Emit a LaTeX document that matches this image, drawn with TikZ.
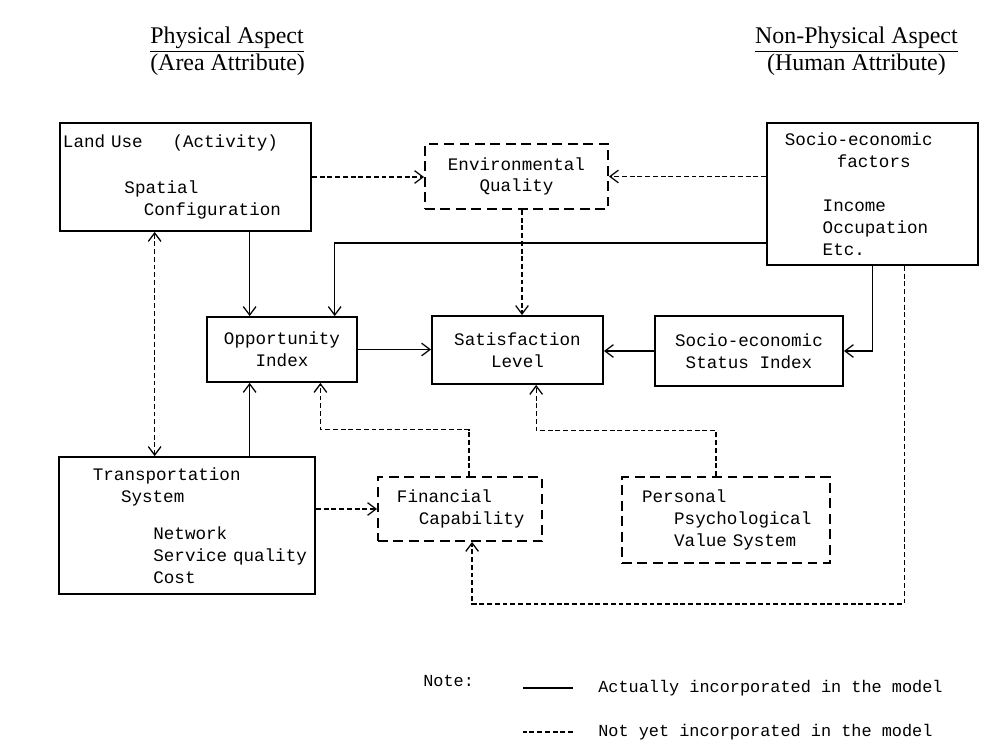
\documentclass[tikz,border=0pt]{standalone}
\usepackage{fontspec}
\setmainfont{Liberation Mono}
\newfontfamily\headfont{Liberation Serif}
\usetikzlibrary{arrows.meta, calc}
\newcommand{\ind}[1]{\hspace*{#1em}}

\begin{document}
\begin{tikzpicture}[
    x=0.025cm, y=-0.025cm,
    >={Straight Barb[length=6pt, width=9pt]},
    every node/.style={font=\fontsize{12.5}{15.5}\selectfont},
    box/.style={draw, line width=1.3pt, align=left, inner xsep=0.075cm, inner ysep=0pt},
    cbox/.style={draw, line width=1.3pt, align=center, inner sep=0pt},
    dbox/.style={dash pattern=on 7pt off 4pt},
    flow/.style={draw, line width=0.9pt, ->},
    dep/.style={flow, dash pattern=on 3.5pt off 2pt},
    head/.style={font=\headfont\fontsize{17}{19}\selectfont, inner sep=0pt},
    key/.style={anchor=west, inner sep=0pt, font=\fontsize{12}{14}\selectfont},
]
\useasboundingbox (0,0) rectangle (982,743);

% headings
\node[head, anchor=north west, align=left] (phys) at (150,27) {\underline{Physical Aspect}\\(Area Attribute)};
\node[head, anchor=north east, align=center] (nonphys) at (958,27) {\underline{Non-Physical Aspect}\\(Human Attribute)};

% boxes
\node[box, text width=6.125cm, minimum height=2.7cm] (landuse) at (185.5,177)
    {Land~Use\hspace{1.7em}(Activity)\\[17pt]\ind{3.5}Spatial\\\ind{4.6}Configuration};
\node[cbox, dbox, minimum width=4.575cm, minimum height=1.625cm] (envq) at (516.5,176.5)
    {Environmental\\Quality};
\node[box, text width=5.125cm, minimum height=3.55cm] (socio) at (872.5,194)
    {\ind{0.85}Socio-economic\\\ind{3.8}factors\\[16pt]\ind{3}Income\\\ind{3}Occupation\\\ind{3}Etc.};
\node[cbox, minimum width=3.75cm, minimum height=1.625cm] (opport) at (282,349.5)
    {Opportunity\\Index};
\node[cbox, minimum width=4.275cm, minimum height=1.7cm] (satisf) at (517.5,350)
    {Satisfaction\\Level};
\node[cbox, minimum width=4.7cm, minimum height=1.75cm] (status) at (749,351)
    {Socio-economic\\Status~Index};
\node[box, text width=6.25cm, minimum height=3.425cm] (transp) at (187,525.5)
    {\ind{1.76}Transportation\\\ind{3.36}System\\[11pt]\ind{5.2}Network\\\ind{5.2}Service~quality\\\ind{5.2}Cost};
\node[box, dbox, text width=3.95cm, minimum height=1.6cm] (financ) at (460,509)
    {\ind{0.91}Financial\\\ind{2.16}Capability};
\node[box, dbox, text width=5.05cm, minimum height=2.15cm] (personal) at (726,520)
    {\ind{0.97}Personal\\\ind{2.8}Psychological\\\ind{2.8}Value~System};

% connector ends
\coordinate (oppN1) at ($(opport.north west)!.287!(opport.north east)$);
\coordinate (oppN2) at ($(opport.north west)!.847!(opport.north east)$);
\coordinate (oppS1) at ($(opport.south west)!.287!(opport.south east)$);
\coordinate (oppS2) at ($(opport.south west)!.753!(opport.south east)$);
\coordinate (satN) at ($(satisf.north west)!.526!(satisf.north east)$);
\coordinate (satS) at ($(satisf.south west)!.608!(satisf.south east)$);
\coordinate (luS) at ($(landuse.south west)!.378!(landuse.south east)$);
\coordinate (socW) at ($(socio.north west)!.84!(socio.south west)$);
\coordinate (socS) at ($(socio.south west)!.649!(socio.south east)$);
\coordinate (finN) at ($(financ.north west)!.555!(financ.north east)$);
\coordinate (finS) at ($(financ.south west)!.573!(financ.south east)$);
\coordinate (perN) at ($(personal.north west)!.452!(personal.north east)$);
\coordinate (finM) at ($(oppS2)!.5!(finN)$);
\coordinate (perM) at ($(satS)!.5!(perN)$);
\coordinate (loop) at ([yshift=-1cm]personal.south);

% actually incorporated
\draw[flow] (oppN1 |- landuse.south) -- (oppN1);
\draw[flow] (socW) -| (oppN2);
\draw[flow] (oppS1 |- transp.north) -- (oppS1);
\draw[flow] (opport.east) -- (opport.east -| satisf.west);
\draw[flow] (status.west) -- (status.west -| satisf.east);
\draw[flow] (socio.south) |- (status.east);

% not yet incorporated
\draw[dep] (landuse.east) -- (landuse.east -| envq.west);
\draw[dep] (socio.west |- envq.east) -- (envq.east);
\draw[dep] (satN |- envq.south) -- (satN);
\draw[dep, <->] (luS) -- (luS |- transp.north);
\draw[dep] (financ.west -| transp.east) -- (financ.west);
\draw[dep] (finN) |- (finM) -| (oppS2);
\draw[dep] (perN) |- (perM) -| (satS);
\draw[dep] (socS) |- (loop) -| (finS);

% note
\node[key] (note) at (423,681) {Note:};
\node[key] (actual) at (598,688) {Actually incorporated in the model};
\node[key] (notyet) at (598,732) {Not yet incorporated in the model};
\draw[line width=0.9pt] ([xshift=-0.625cm]actual.west) -- ++(-1.25cm,0);
\draw[line width=0.9pt, dash pattern=on 3.5pt off 2pt] ([xshift=-0.625cm]notyet.west) -- ++(-1.25cm,0);

\end{tikzpicture}
\end{document}
